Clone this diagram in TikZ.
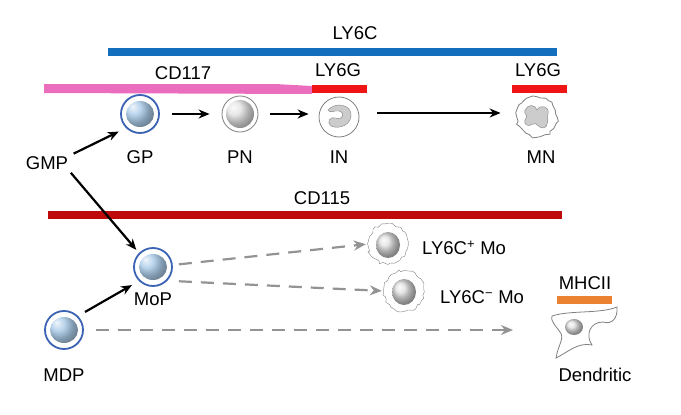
\documentclass[tikz,border=0pt]{standalone}
\usepackage{fontspec}
\setmainfont{Liberation Sans}
\usetikzlibrary{arrows.meta,decorations.pathmorphing}
\definecolor{cblue}{RGB}{20,110,190}
\definecolor{cpink}{RGB}{235,110,190}
\definecolor{cred}{RGB}{240,20,20}
\definecolor{cdred}{RGB}{190,10,10}
\definecolor{corange}{RGB}{235,130,50}
\definecolor{ring}{RGB}{60,100,180}
\begin{document}
\begin{tikzpicture}[x=1pt,y=-1pt,
  lab/.style={font=\fontsize{18.5}{20}\selectfont,inner sep=0pt},
  bar/.style={line width=8pt},
  arr/.style={-{Stealth[length=11pt,width=9pt]},line width=2.2pt},
  darr/.style={-{Stealth[length=12pt,width=10pt]},line width=2.2pt,gray!85,dash pattern=on 13pt off 9pt},
  bluecell/.style={circle,draw=ring,line width=1.8pt,minimum size=38pt,inner sep=0pt,
     path picture={\shade[ball color=cblue!50!white,opacity=0.8] (path picture bounding box.center) ellipse (14pt and 13pt);}},
  graycell/.style={circle,draw=gray,line width=0.8pt,minimum size=36pt,inner sep=0pt,
     path picture={\shade[ball color=gray!30,opacity=0.8] (path picture bounding box.center) circle (14pt);}},
  gcirc/.style={circle,draw=gray,line width=0.8pt,minimum size=40pt,inner sep=0pt}]
\useasboundingbox (0,0) rectangle (681,415);
% bars
\draw[bar,cblue] (108,52) -- (557,52);
\node[lab] (ly6c) at (355,33) {LY6C};
\fill[cpink] (44,84) -- (275,84) -- (312,86) -- (312,94) -- (44,93) -- cycle;
\node[lab] (cd117) at (183,73) {CD117};
\draw[bar,cred] (312,89) -- (367,89);
\node[lab] (ly6ga) at (338,70) {LY6G};
\draw[bar,cred] (512,89) -- (567,89);
\node[lab] (ly6gb) at (538,70) {LY6G};
\draw[bar,cdred] (48,215) -- (562,215);
\node[lab] (cd115) at (322,198) {CD115};
\draw[bar,corange] (557,300) -- (612,300);
\node[lab] (mhc) at (585,283) {MHCII};
% cells
\node[bluecell] (gp) at (140,114) {};
\node[graycell] (pn) at (240,114) {};
\node[gcirc] (in) at (339,117) {};
\fill[gray!40,draw=gray] (328,110) .. controls (335,102) and (350,104) .. (351,114) .. controls (352,124) and (340,130) .. (331,126) .. controls (326,122) and (330,116) .. (336,118) .. controls (342,121) and (346,113) .. (339,111) .. controls (334,110) and (330,114) .. (328,110) -- cycle;
\node[gcirc,decorate,decoration={random steps,segment length=4pt,amplitude=1.5pt}] (mn) at (537,117) {};
\fill[gray!40,draw=gray] (525,110) .. controls (528,104) and (535,104) .. (537,110) .. controls (540,104) and (550,106) .. (548,114) .. controls (546,120) and (550,126) .. (543,128) .. controls (538,128) and (537,122) .. (533,124) .. controls (528,128) and (522,124) .. (526,118) .. controls (529,115) and (523,114) .. (525,110) -- cycle;
\node[bluecell] (mop) at (153,267) {};
\node[bluecell] (mdp) at (64,330) {};
\node[circle,draw=gray,minimum size=40pt,inner sep=0pt,decorate,decoration={random steps,segment length=3pt,amplitude=1.5pt}] (mop1) at (388,244) {};
\shade[ball color=gray!30,opacity=0.8] (388,245) ellipse (12pt and 13pt);
\node[circle,draw=gray,minimum size=40pt,inner sep=0pt,decorate,decoration={random steps,segment length=3pt,amplitude=1.5pt}] (mop2) at (404,291) {};
\shade[ball color=gray!30,opacity=0.8] (404,292) ellipse (12pt and 13pt);
\draw[gray,line width=0.8pt] (552,316) .. controls (570,310) and (600,314) .. (617,307) .. controls (618,318) and (612,325) .. (603,322) .. controls (590,322) and (585,335) .. (592,345) .. controls (578,342) and (568,352) .. (556,358) .. controls (558,345) and (565,338) .. (560,332) .. controls (555,325) and (550,320) .. (552,316) -- cycle;
\coordinate (dc) at (574,327);
\shade[ball color=gray!30,opacity=0.8] (dc) ellipse (9pt and 8pt);
% labels
\node[lab] (gpl) at (140,157) {GP};
\node[lab] (pnl) at (240,157) {PN};
\node[lab] (inl) at (339,157) {IN};
\node[lab] (mnl) at (541,157) {MN};
\node[lab] (gmp) at (47,163) {GMP};
\node[lab] (mopl) at (153,299) {MoP};
\node[lab] (mdpl) at (64,375) {MDP};
\node[lab,anchor=west] (l1) at (422,248) {LY6C\textsuperscript{+} Mo};
\node[lab,anchor=west] (l2) at (440,297) {LY6C\textsuperscript{−} Mo};
\node[lab] (dl) at (595,375) {Dendritic};
% arrows
\draw[arr,shorten <=6pt,shorten >=8pt] (gmp.north east) -- (gp.south west);
\draw[arr,shorten <=4pt,shorten >=4pt] (gmp.south east) -- (mop.north west);
\draw[arr,shorten <=12pt,shorten >=12pt] (gp.east) -- (pn.west);
\draw[arr,shorten <=12pt,shorten >=10pt] (pn.east) -- (pn.east -| in.west);
\draw[arr,shorten <=18pt,shorten >=16pt] (in.east |- 113,113) -- (mn.west |- 113,113);
\draw[arr,shorten <=8pt,shorten >=8pt] (mdp.north east) -- (mop.south west);
\draw[darr,shorten <=6pt,shorten >=2pt] ([yshift=2pt]mop.east) -- (mop1.west);
\draw[darr,shorten <=6pt,shorten >=2pt] ([yshift=-14pt]mop.east) -- (mop2.west);
\draw[darr,shorten <=12pt] (mdp.east) -- (513,330);
\end{tikzpicture}
\end{document}
